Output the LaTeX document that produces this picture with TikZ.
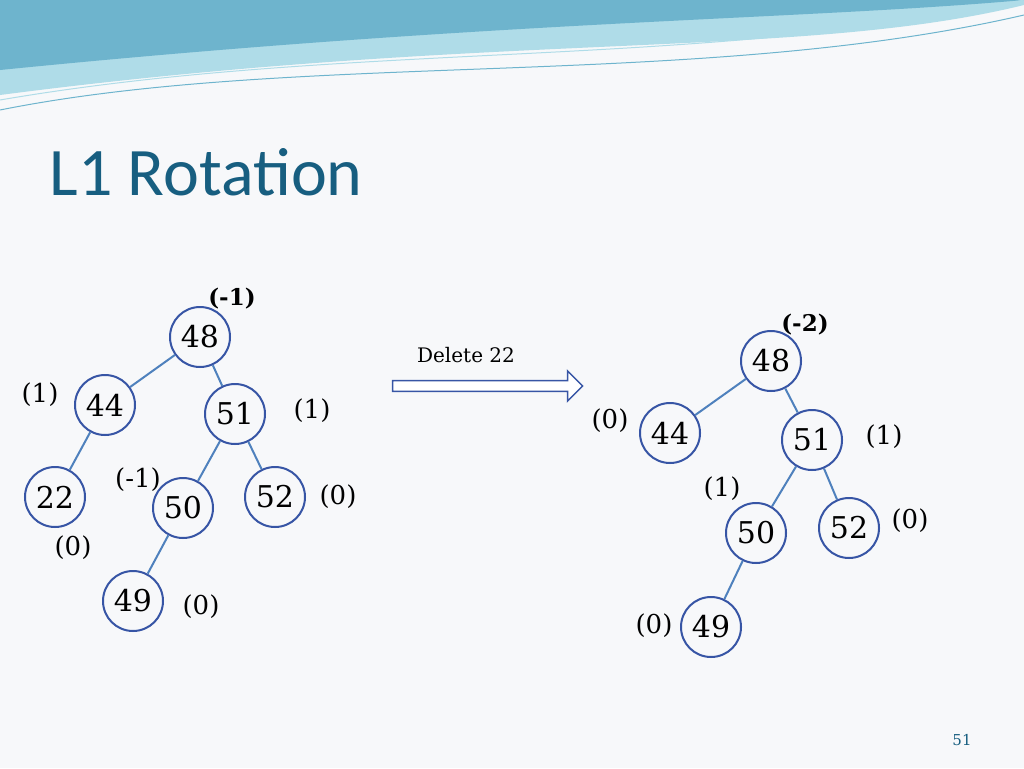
\documentclass[tikz,border=0pt]{standalone}
\usepackage{fontspec}
\setmainfont{DejaVu Serif}
\newfontfamily\titlefont{Carlito}
\usetikzlibrary{shapes.arrows}
\definecolor{edgeblue}{RGB}{79,129,189}
\definecolor{ringblue}{RGB}{55,85,165}
\definecolor{titleblue}{RGB}{23,94,128}
\definecolor{wavedark}{RGB}{110,180,205}
\definecolor{wavelight}{RGB}{175,220,232}
\definecolor{slidebg}{RGB}{247,248,250}
\newcommand{\ringsize}{60pt}
\begin{document}
\begin{tikzpicture}[x=1pt,y=-1pt,
  avl/.style={draw=ringblue,line width=2pt,circle,minimum size=\ringsize,inner sep=0pt,font=\fontsize{30}{30}\selectfont},
  bal/.style={font=\fontsize{26}{26}\selectfont},
  link/.style={edgeblue,line width=2pt}]
\fill[slidebg] (0,0) rectangle (1024,768);
\useasboundingbox (0,0) rectangle (1024,768);
% waves
\fill[wavelight] (0,0) -- (1024,0) -- (1024,5) .. controls (800,60) and (500,30) .. (0,95) -- cycle;
\fill[wavedark] (0,0) -- (1024,0) -- (1024,0) .. controls (800,20) and (500,20) .. (0,70) -- cycle;
\draw[wavedark,line width=1pt] (0,110) .. controls (300,50) and (700,90) .. (1024,15);
\draw[wavelight,line width=1pt] (0,100) .. controls (350,40) and (700,70) .. (1024,0);
\node[anchor=west,text=titleblue,font=\titlefont\fontsize{68}{68}\selectfont] (title) at (46,172) {L1 Rotation};
% left tree
\node[avl] (a48) at (200,337) {48};
\node[avl] (a44) at (105,405) {44};
\node[avl] (a51) at (235,414) {51};
\node[avl] (a22) at (55,497) {22};
\node[avl] (a50) at (183,508) {50};
\node[avl] (a52) at (275,497) {52};
\node[avl] (a49) at (133,601) {49};
\draw[link] (a48) -- (a44);
\draw[link] (a48) -- (a51);
\draw[link] (a44) -- (a22);
\draw[link] (a51) -- (a50);
\draw[link] (a51) -- (a52);
\draw[link] (a50) -- (a49);
\node[bal,font=\bfseries\fontsize{23}{23}\selectfont] (b48) at (232,299) {(-1)};
\node[bal] (b44) at (40,395) {(1)};
\node[bal] (b51) at (312,411) {(1)};
\node[bal] (b50) at (138,480) {(-1)};
\node[bal] (b52) at (338,497) {(0)};
\node[bal] (b22) at (73,548) {(0)};
\node[bal] (b49) at (201,607) {(0)};
% arrow
\node[single arrow,draw=ringblue,line width=1.5pt,fill=white,minimum height=190pt,minimum width=30pt,
  single arrow head extend=5pt,inner sep=2pt] (step) at (485,386) {};
\node[font=\fontsize{20}{20}\selectfont] (steptext) at (466,355) {Delete 22};
% right tree
\node[avl] (c48) at (771,361) {48};
\node[avl] (c44) at (670,433) {44};
\node[avl] (c51) at (812,440) {51};
\node[avl] (c50) at (756,533) {50};
\node[avl] (c52) at (849,528) {52};
\node[avl] (c49) at (711,627) {49};
\draw[link] (c48) -- (c44);
\draw[link] (c48) -- (c51);
\draw[link] (c51) -- (c50);
\draw[link] (c51) -- (c52);
\draw[link] (c50) -- (c49);
\node[bal,font=\bfseries\fontsize{23}{23}\selectfont] (d48) at (805,325) {(-2)};
\node[bal] (d44) at (610,421) {(0)};
\node[bal] (d51) at (884,437) {(1)};
\node[bal] (d50) at (722,489) {(1)};
\node[bal] (d52) at (910,521) {(0)};
\node[bal] (d49) at (654,626) {(0)};
\node[text=titleblue,font=\fontsize{15}{15}\selectfont] (page) at (962,740) {51};
\end{tikzpicture}
\end{document}
